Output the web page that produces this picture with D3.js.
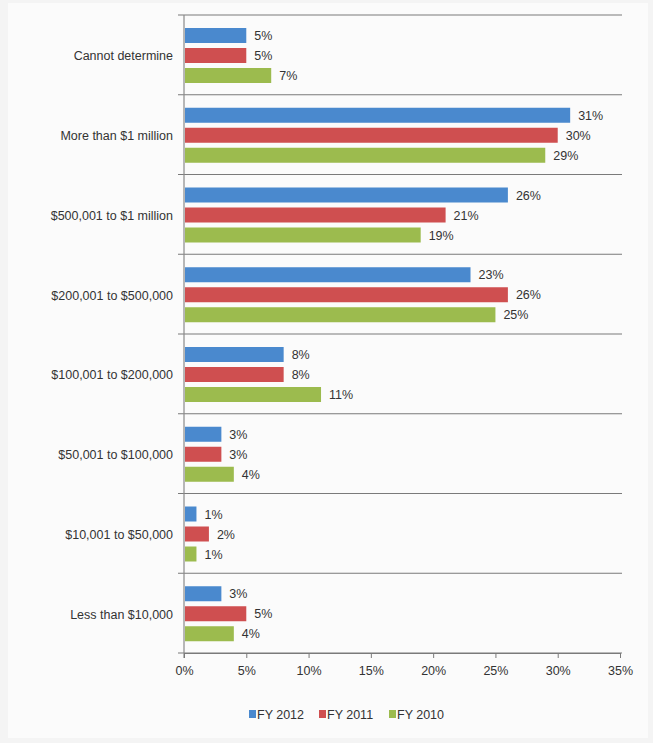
<!DOCTYPE html>
<html><head><meta charset="utf-8">
<script src="https://cdn.jsdelivr.net/npm/d3@7"></script>
<style>
html,body{margin:0;padding:0;background:#f4f4f4;}
svg{display:block;font-family:"Liberation Sans",Arial,sans-serif;}
</style></head>
<body>
<svg id="c" width="653" height="743"></svg>
<script>
const categories = ["Cannot determine","More than $1 million","$500,001 to $1 million","$200,001 to $500,000","$100,001 to $200,000","$50,001 to $100,000","$10,001 to $50,000","Less than $10,000"];
const seriesNames = ["FY 2012","FY 2011","FY 2010"];
const fy2012 = [5,31,26,23,8,3,1,3];
const fy2011 = [5,30,21,26,8,3,2,5];
const fy2010 = [7,29,19,25,11,4,1,4];
const xTicks = [0,5,10,15,20,25,30,35];
const colors = ["#4A89CE","#CF4F50","#9CBB4E"];

(function(){
const seriesValues = [fy2012, fy2011, fy2010];
const svg = d3.select("#c");
svg.append("rect").attr("x",8).attr("y",3).attr("width",640).attr("height",735).attr("fill","#fbfbfb");

const mLeft = 184, mRight = 620, mTop = 15, mBottom = 653;
const x = d3.scaleLinear().domain([0,35]).range([mLeft,mRight]);
const y = d3.scaleBand().domain(categories).range([mTop,mBottom]).paddingInner(0).paddingOuter(0);
const inner = d3.scaleBand().domain(seriesNames).range([13, 68]).paddingInner(0.25).paddingOuter(0);

const bounds = d3.range(categories.length+1).map(i => mTop + i*y.step());
svg.append("g").selectAll("line").data(bounds).join("line")
  .attr("x1",mLeft-6).attr("x2",mRight+2).attr("y1",d=>d).attr("y2",d=>d)
  .attr("stroke","#7a7a7a").attr("stroke-width",1.2);

svg.append("line").attr("x1",mLeft).attr("x2",mLeft).attr("y1",mTop).attr("y2",mBottom+5)
  .attr("stroke","#8a8a8a").attr("stroke-width",1.2);

const groups = svg.append("g").selectAll("g").data(categories).join("g")
  .attr("transform",c=>`translate(0,${y(c)})`);
groups.each(function(c,ci){
  const g = d3.select(this);
  seriesNames.forEach((s,si)=>{
    const v = seriesValues[si][ci];
    g.append("rect").attr("x",x(0)+1).attr("y",inner(s))
      .attr("width",x(v)-x(0)-1).attr("height",inner.bandwidth())
      .attr("fill",colors[si]);
    g.append("text").attr("x",x(v)+8).attr("y",inner(s)+inner.bandwidth()/2)
      .attr("dy","0.36em").attr("font-size",12.5).attr("fill","#333")
      .text(v+"%");
  });
  g.append("text").attr("x",mLeft-11).attr("y",y.bandwidth()/2+1).attr("dy","0.36em")
    .attr("text-anchor","end").attr("font-size",12.5).attr("fill","#333").text(c);
});

const xAxis = svg.append("g").attr("transform",`translate(0,${mBottom})`)
  .call(d3.axisBottom(x).tickValues(xTicks).tickFormat(d=>d+"%").tickSize(5).tickPadding(8).tickSizeOuter(0));
xAxis.select(".domain").attr("stroke","#7a7a7a").attr("stroke-width",1.2);
xAxis.selectAll(".tick line").attr("stroke","#7a7a7a");
xAxis.selectAll("text").attr("font-size",12.5).attr("fill","#333").attr("font-family","Liberation Sans, Arial, sans-serif");

const legX = [249,319,389];
const leg = svg.append("g").selectAll("g").data(seriesNames).join("g")
  .attr("transform",(d,i)=>`translate(${legX[i]},714)`);
leg.append("rect").attr("x",0).attr("y",-4).attr("width",7).attr("height",8).attr("fill",(d,i)=>colors[i]);
leg.append("text").attr("x",8).attr("y",0).attr("dy","0.36em").attr("font-size",12.5).attr("fill","#333").text(d=>d);
})();
</script>
</body></html>
